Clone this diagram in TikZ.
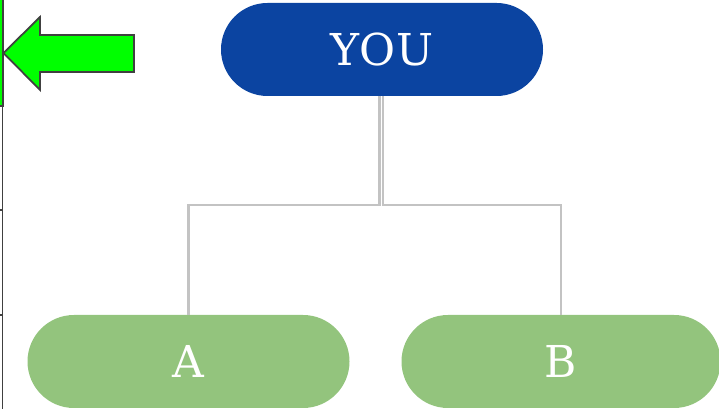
\documentclass[tikz,border=0pt]{standalone}
\usepackage{fontspec}
\setmainfont{DejaVu Serif}
\usepackage{tikz}
\usetikzlibrary{positioning,calc}
\usepackage{xcolor}
\definecolor{youblue}{HTML}{0B44A1}
\definecolor{kidgreen}{HTML}{93C47D}
\definecolor{linegray}{HTML}{C3C3C3}
\definecolor{edgegray}{HTML}{404040}

\tikzset{
    pill/.style={minimum width=6.44cm, minimum height=1.86cm, inner sep=0pt,
        rounded corners=0.93cm, text=white, font=\fontsize{25}{30}\selectfont},
    conn/.style={linegray, line width=1.2pt}
}

\begin{document}
\begin{tikzpicture}[scale=1.0]
    \useasboundingbox (0,0) rectangle (14.38,8.18);

    % Left bar and ticks
    \draw[edgegray, thick] (0.05,0) -- (0.05,8.18);
    \draw[edgegray, thick] (0,3.98) -- (0.05,3.98);
    \draw[edgegray, thick] (0,1.88) -- (0.05,1.88);
    \draw[edgegray, thick, fill=green] (-0.05,6.06) rectangle (0.06,8.25);

    % Green arrow
    \draw[edgegray, line width=1pt, fill=green] (0.07,7.12) -- (0.8,7.84) -- (0.8,7.48)
        -- (2.68,7.48) -- (2.68,6.74) -- (0.8,6.74) -- (0.8,6.38) -- cycle;

    % Nodes
    \node[pill, fill=youblue] (you) at (7.64,7.19) {YOU};
    \node[pill, fill=kidgreen] (a) at (3.77,0.95) {A};
    \node[pill, fill=kidgreen, minimum width=6.38cm] (b) at (11.22,0.95) {B};

    % Connectors
    \draw[conn] ([xshift=-0.05cm]you.south) -- ++(0,-2.18) -| (a.north);
    \draw[conn] ([xshift=0.02cm]you.south) -- ++(0,-2.18) -| (b.north);
\end{tikzpicture}
\end{document}
